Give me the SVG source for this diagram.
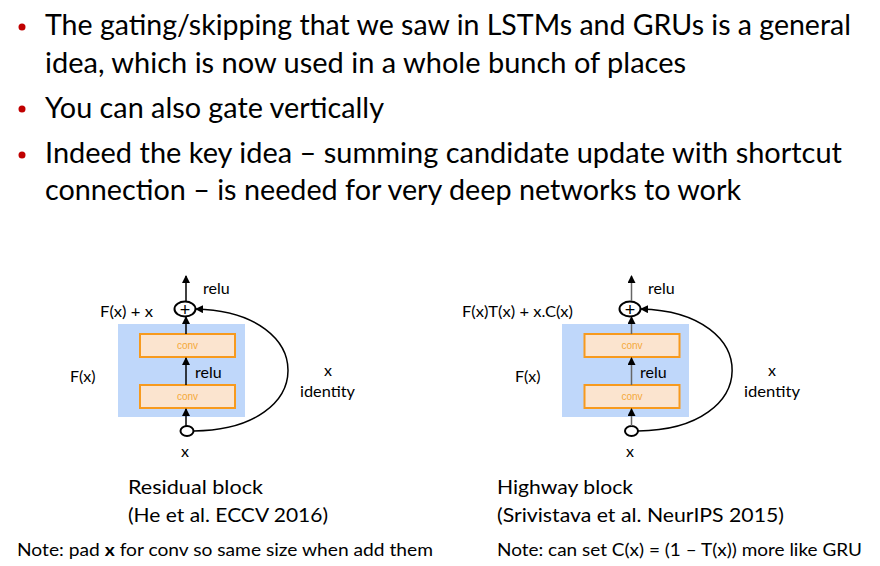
<svg xmlns="http://www.w3.org/2000/svg" width="880" height="566" viewBox="0 0 880 566">
  <style>
    .bul { font-family: Lato, "Open Sans", "Liberation Sans", sans-serif; font-size: 28px; fill: #000; }
    .lbl { font-family: Lato, "Open Sans", "Liberation Sans", sans-serif; font-size: 16px; fill: #000; }
    .plus { font-family: "Liberation Sans", Arial, sans-serif; font-size: 18px; fill: #000; text-anchor: middle; }
    .cap { font-family: Lato, "Open Sans", "Liberation Sans", sans-serif; font-size: 20px; fill: #000; }
    .note { font-family: Lato, "Open Sans", "Liberation Sans", sans-serif; font-size: 17px; fill: #000; }
    .conv { font-family: "Liberation Sans", Arial, sans-serif; font-size: 10px; fill: #f4a83a; text-anchor: middle; }
    .block { fill: #bfd7fa; }
    .convbox { fill: #fbe4cf; stroke: #f79a1e; stroke-width: 2; }
    .edge { stroke: #000; stroke-width: 1.5; fill: none; }
    .edge2 { stroke: #666; stroke-width: 1.5; fill: none; }
    .node { fill: #fff; stroke: #000; stroke-width: 2; }
  </style>
  <defs>
    <marker id="arr" markerWidth="8" markerHeight="8" refX="7" refY="4" orient="auto" markerUnits="userSpaceOnUse">
      <path d="M0,0 L8,4 L0,8 Z" fill="#000"/>
    </marker>
  </defs>
  <rect width="880" height="566" fill="#fff"/>

  <!-- bullet points -->
  <g id="bullets">
    <circle cx="22" cy="27" r="3.5" fill="#c00000"/>
    <circle cx="22" cy="109" r="3.5" fill="#c00000"/>
    <circle cx="22" cy="155" r="3.5" fill="#c00000"/>
    <text class="bul" x="45" y="35" textLength="806" lengthAdjust="spacingAndGlyphs">The gating/skipping that we saw in LSTMs and GRUs is a general</text>
    <text class="bul" x="45" y="73" textLength="641" lengthAdjust="spacingAndGlyphs">idea, which is now used in a whole bunch of places</text>
    <text class="bul" x="45" y="118" textLength="339" lengthAdjust="spacingAndGlyphs">You can also gate vertically</text>
    <text class="bul" x="45" y="163" textLength="797" lengthAdjust="spacingAndGlyphs">Indeed the key idea – summing candidate update with shortcut</text>
    <text class="bul" x="45" y="200" textLength="696" lengthAdjust="spacingAndGlyphs">connection – is needed for very deep networks to work</text>
  </g>

  <!-- residual block -->
  <g id="residual-Fx">
    <rect class="block" x="118" y="324" width="127" height="93"/>
    <text class="lbl" x="70" y="382">F(x)</text>
  </g>
  <g id="residual-conv1">
    <rect class="convbox" x="140" y="385" width="95" height="23"/>
    <text class="conv" x="187.5" y="400">conv</text>
  </g>
  <g id="residual-conv2">
    <rect class="convbox" x="140" y="334" width="95" height="23"/>
    <text class="conv" x="187.5" y="349">conv</text>
  </g>
  <g id="residual-add">
    <ellipse class="node" cx="185" cy="309" rx="10.5" ry="7.5"/>
    <text class="plus" x="185" y="315.5">+</text>
    <text class="lbl" x="100" y="317" textLength="53" lengthAdjust="spacingAndGlyphs">F(x) + x</text>
  </g>
  <g id="residual-input">
    <ellipse class="node" cx="187" cy="431" rx="6.5" ry="5" stroke-width="1.5"/>
    <text class="lbl" x="185" y="457" text-anchor="middle">x</text>
  </g>
  <g id="residual-labels">
    <text class="lbl" x="203" y="294">relu</text>
    <text class="lbl" x="195" y="378">relu</text>
    <text class="lbl" x="328" y="376" text-anchor="middle">x</text>
    <text class="lbl" x="300" y="397" textLength="55" lengthAdjust="spacingAndGlyphs">identity</text>
  </g>

  <!-- highway block -->
  <g id="highway-Fx">
    <rect class="block" x="562" y="324" width="127" height="93"/>
    <text class="lbl" x="515" y="382">F(x)</text>
  </g>
  <g id="highway-conv1">
    <rect class="convbox" x="584.5" y="385" width="95" height="23"/>
    <text class="conv" x="632" y="400">conv</text>
  </g>
  <g id="highway-conv2">
    <rect class="convbox" x="584.5" y="334" width="95" height="23"/>
    <text class="conv" x="632" y="349">conv</text>
  </g>
  <g id="highway-add">
    <ellipse class="node" cx="630" cy="309" rx="10.5" ry="7.5"/>
    <text class="plus" x="630" y="315.5">+</text>
    <text class="lbl" x="462" y="317" textLength="111" lengthAdjust="spacingAndGlyphs">F(x)T(x) + x.C(x)</text>
  </g>
  <g id="highway-input">
    <ellipse class="node" cx="631.5" cy="431" rx="6.5" ry="5" stroke-width="1.5"/>
    <text class="lbl" x="630" y="457" text-anchor="middle">x</text>
  </g>
  <g id="highway-labels">
    <text class="lbl" x="648" y="294">relu</text>
    <text class="lbl" x="640" y="378">relu</text>
    <text class="lbl" x="772" y="376" text-anchor="middle">x</text>
    <text class="lbl" x="744" y="397" textLength="56" lengthAdjust="spacingAndGlyphs">identity</text>
  </g>

  <!-- connectors -->
  <g id="connectors">
    <path class="edge" d="M186,301 L186,276" marker-end="url(#arr)"/>
    <path class="edge" d="M186,334 L186,317" marker-end="url(#arr)"/>
    <path class="edge" d="M186,385 L186,358" marker-end="url(#arr)"/>
    <path class="edge" d="M186,426 L186,409" marker-end="url(#arr)"/>
    <path class="edge" d="M194,431 C319,430 319,312 196,309" stroke-width="2" marker-end="url(#arr)"/>

    <path class="edge2" d="M631.5,301 L631.5,276" marker-end="url(#arr)"/>
    <path class="edge2" d="M631.5,334 L631.5,317" marker-end="url(#arr)"/>
    <path class="edge2" d="M631.5,385 L631.5,358" marker-end="url(#arr)"/>
    <path class="edge2" d="M631.5,426 L631.5,409" marker-end="url(#arr)"/>
    <path class="edge" d="M638,431 C763,430 763,312 641,309" stroke-width="2" marker-end="url(#arr)"/>
  </g>

  <!-- captions -->
  <g id="captions">
    <text class="cap" x="128" y="494" textLength="135" lengthAdjust="spacingAndGlyphs">Residual block</text>
    <text class="cap" x="128" y="522" textLength="200" lengthAdjust="spacingAndGlyphs">(He et al. ECCV 2016)</text>
    <text class="cap" x="497" y="494" textLength="136" lengthAdjust="spacingAndGlyphs">Highway block</text>
    <text class="cap" x="497" y="522" textLength="287" lengthAdjust="spacingAndGlyphs">(Srivistava et al. NeurIPS 2015)</text>
    <text class="note" x="17" y="556" textLength="416" lengthAdjust="spacingAndGlyphs">Note: pad <tspan font-weight="bold">x</tspan> for conv so same size when add them</text>
    <text class="note" x="497" y="556" textLength="365" lengthAdjust="spacingAndGlyphs">Note: can set C(x) = (1 – T(x)) more like GRU</text>
  </g>
</svg>
